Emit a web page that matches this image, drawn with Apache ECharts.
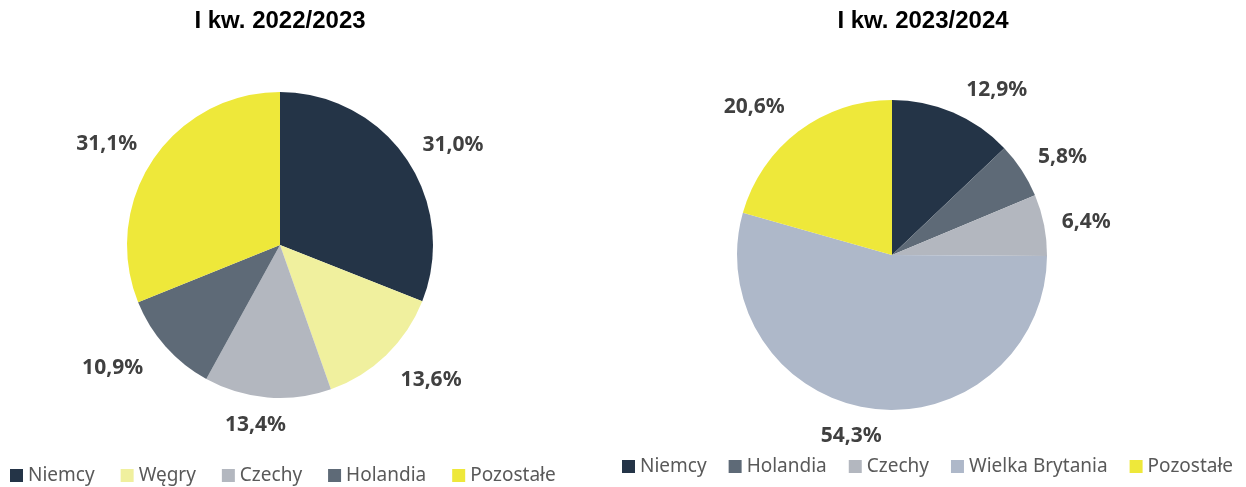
<!DOCTYPE html>
<html>
<head>
<meta charset="utf-8">
<script src="https://cdn.jsdelivr.net/npm/echarts@6/dist/echarts.min.js"></script>
<style>
  html, body { margin: 0; padding: 0; background: #fff; }
  #chart { width: 1246px; height: 487px; }
</style>
</head>
<body>
<div id="chart"></div>
<script>
// dane
const titles = ["I kw. 2022/2023", "I kw. 2023/2024"];
const names1 = ["Niemcy", "Węgry", "Czechy", "Holandia", "Pozostałe"];
const values1 = [31.0, 13.6, 13.4, 10.9, 31.1];
const names2 = ["Niemcy", "Holandia", "Czechy", "Wielka Brytania", "Pozostałe"];
const values2 = [12.9, 5.8, 6.4, 54.3, 20.6];

const colors = {
  "Niemcy": "#243447",
  "Węgry": "#F0F09E",
  "Czechy": "#B3B7BF",
  "Holandia": "#5E6A77",
  "Wielka Brytania": "#AEB8C9",
  "Pozostałe": "#EEE83A"
};

// drobne przesunięcia etykiet (jak w Excelu)
const nudge1 = [[-4, -4], [-3, 12], [25, 10], [-4, 10], [4, -5]];
const nudge2 = [[1, -6], [-4, -3], [-5, 0], [19, 10], [2, -10]];

function toData(names, values) {
  return names.map((n, i) => ({ name: n, value: values[i], itemStyle: { color: colors[n] } }));
}

const label = {
  show: true,
  position: "outside",
  formatter: (p) => p.value.toFixed(1).replace(".", ",") + "%",
  fontFamily: "Noto Sans",
  fontWeight: "bold",
  fontSize: 21,
  color: "#404040"
};

const titleStyle = { fontFamily: "Liberation Sans", fontWeight: "bold", fontSize: 24, color: "#000" };
const legendText = { fontFamily: "Noto Sans", fontSize: 19, color: "#595959" };

const myChart = echarts.init(document.getElementById("chart"));
myChart.setOption({
  animation: false,
  title: [
    { text: titles[0], left: 275, top: 4, textAlign: "center", textStyle: titleStyle },
    { text: titles[1], left: 918, top: 4, textAlign: "center", textStyle: titleStyle }
  ],
  legend: [
    { data: names1, left: 5, top: 461, icon: "rect", itemWidth: 13, itemHeight: 13, itemGap: 26,
      textStyle: legendText, selectedMode: false },
    { data: names2, left: 617, top: 452, icon: "rect", itemWidth: 13, itemHeight: 13, itemGap: 22,
      textStyle: legendText, selectedMode: false }
  ],
  series: [
    {
      type: "pie",
      center: [280, 245],
      radius: 153,
      startAngle: 90,
      clockwise: true,
      data: toData(names1, values1),
      label: label,
      labelLine: { show: false, length: 18, length2: 0 },
      labelLayout: (p) => ({ dx: nudge1[p.dataIndex][0], dy: nudge1[p.dataIndex][1] })
    },
    {
      type: "pie",
      center: [892, 255],
      radius: 155,
      startAngle: 90,
      clockwise: true,
      data: toData(names2, values2),
      label: label,
      labelLine: { show: false, length: 18, length2: 0 },
      labelLayout: (p) => ({ dx: nudge2[p.dataIndex][0], dy: nudge2[p.dataIndex][1] })
    }
  ]
});
</script>
</body>
</html>
